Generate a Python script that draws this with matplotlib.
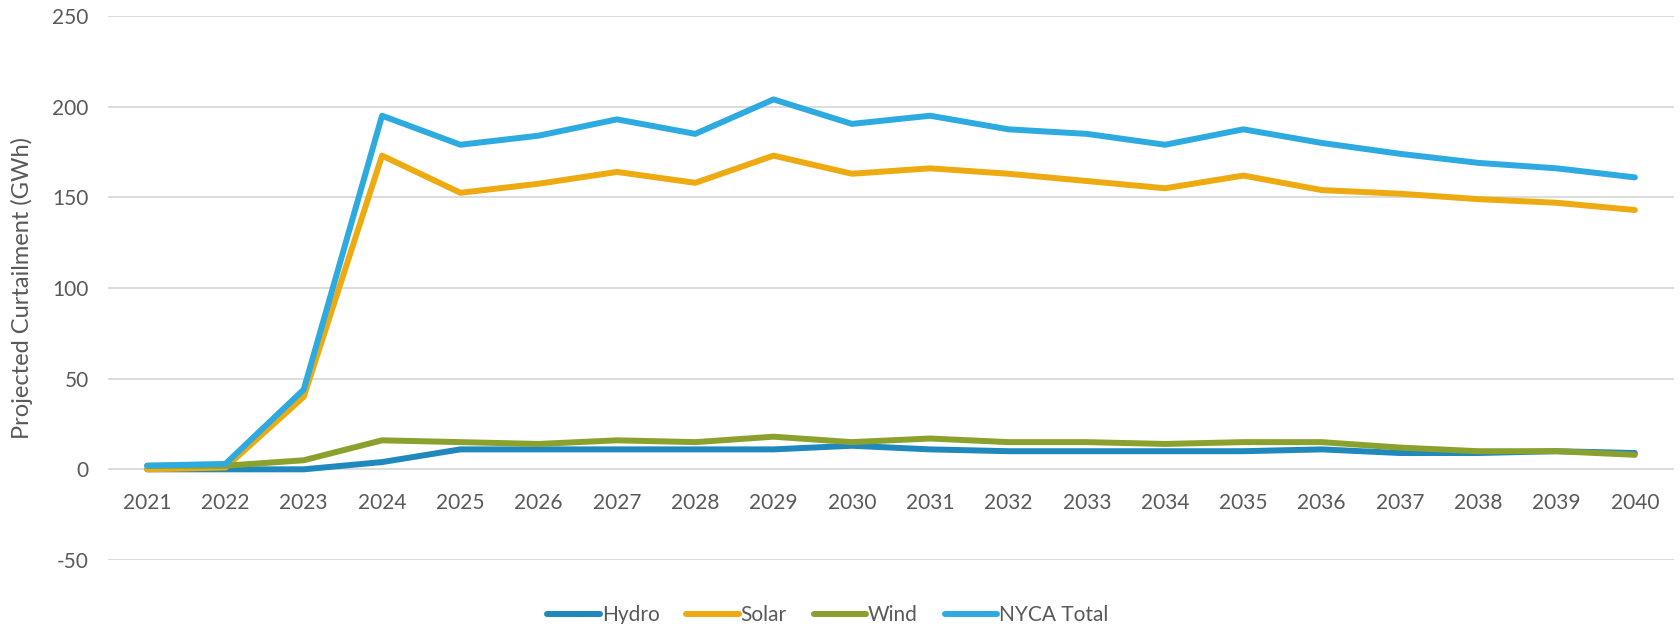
import matplotlib
matplotlib.use("Agg")
import matplotlib.pyplot as plt

years = [str(y) for y in range(2021, 2041)]
hydro = [0, 0, 0, 4, 11, 11, 11, 11, 11, 13, 11, 10, 10, 10, 10, 11, 9, 9, 10, 9]
solar = [0, 1, 40, 173, 152.5, 157.5, 164, 158, 173, 163, 166, 163, 159, 155, 162, 154, 152, 149, 147, 143]
wind = [2, 2, 5, 16, 15, 14, 16, 15, 18, 15, 17, 15, 15, 14, 15, 15, 12, 10, 10, 8]
nyca_total = [2, 3, 44, 195, 179, 184, 193, 185, 204, 190.5, 195, 187.5, 185, 179, 187.5, 180, 174, 169, 166, 161]

series = [
    ("Hydro", hydro, "#1f88bc"),
    ("Solar", solar, "#eeaa11"),
    ("Wind", wind, "#8aa12e"),
    ("NYCA Total", nyca_total, "#2daae0"),
]

plt.rcParams["font.family"] = ["Lato", "DejaVu Sans"]
plt.rcParams["axes.unicode_minus"] = False
txt = "#595959"

fig = plt.figure(figsize=(16.81, 6.24), dpi=100)
ax = fig.add_axes([108 / 1681, 1 - 560 / 624, (1674 - 108) / 1681, (560 - 16) / 624])

x = list(range(len(years)))
for name, vals, col in series:
    ax.plot(x, vals, color=col, lw=4.3, label=name, solid_capstyle="round", solid_joinstyle="round")

ax.set_xlim(-0.5, len(years) - 0.5)
ax.set_ylim(-50, 250)
ax.set_yticks(range(-50, 251, 50))
ax.set_xticks(x)
ax.set_xticklabels(years)
ax.grid(axis="y", color="#d9d9d9", lw=1.3)
ax.set_axisbelow(True)
for s in ["top", "right", "left"]:
    ax.spines[s].set_visible(False)
ax.spines["bottom"].set_position(("data", 0))
ax.spines["bottom"].set_visible(False)
ax.tick_params(axis="both", length=0, labelsize=15, colors=txt)
ax.tick_params(axis="x", pad=17)
ax.tick_params(axis="y", pad=14)
ax.set_ylabel("Projected Curtailment (GWh)", fontsize=17, color=txt, labelpad=14)

fig.legend(loc="lower center", bbox_to_anchor=(828 / 1681, -0.032), ncol=4, frameon=False,
           fontsize=15, labelcolor=txt, handlelength=2.5, handletextpad=0.1, columnspacing=1.3)

fig.savefig("out.png", dpi=100)
